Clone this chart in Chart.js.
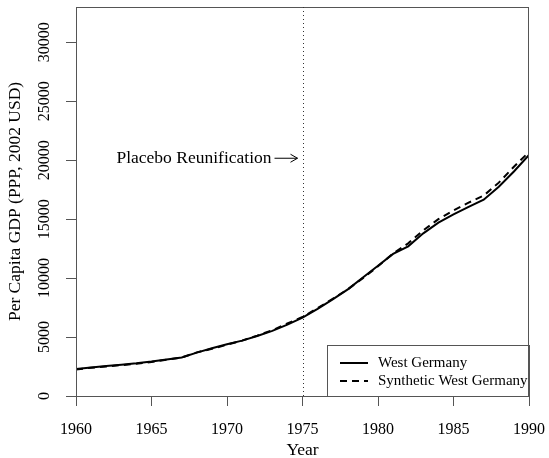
<!DOCTYPE html>
<html>
<head>
<meta charset="utf-8">
<script src="https://cdn.jsdelivr.net/npm/chart.js@4.4.1/dist/chart.umd.min.js"></script>
<style>
  html, body { margin: 0; padding: 0; background: #fff; }
  canvas { display: block; }
</style>
</head>
<body>
<canvas id="gdpChart" width="549" height="458"></canvas>
<script>
// Data
const years = [1960, 1961, 1962, 1963, 1964, 1965, 1966, 1967, 1968, 1969,
               1970, 1971, 1972, 1973, 1974, 1975, 1976, 1977, 1978, 1979,
               1980, 1981, 1982, 1983, 1984, 1985, 1986, 1987, 1988, 1989, 1990];
const westGermany = [2300, 2420, 2550, 2650, 2770, 2920, 3100, 3270, 3680, 4050,
                     4390, 4700, 5090, 5520, 6050, 6650, 7400, 8200, 9050, 10050,
                     11050, 12050, 12700, 13800, 14700, 15400, 16050, 16650, 17750, 19050, 20450];
const syntheticWestGermany = [2250, 2400, 2500, 2620, 2730, 2880, 3080, 3270, 3700, 4000,
                              4350, 4700, 5120, 5580, 6150, 6700, 7450, 8250, 9050, 10000,
                              11000, 12100, 12950, 14050, 15000, 15750, 16400, 17000, 18100, 19450, 20700];
const xTicks = [1960, 1965, 1970, 1975, 1980, 1985, 1990];
const yTicks = [0, 5000, 10000, 15000, 20000, 25000, 30000];
const seriesLabels = ['West Germany', 'Synthetic West Germany'];
const placeboYear = 1975;
const placeboLabel = 'Placebo Reunification';

const serif = "'Liberation Serif', 'DejaVu Serif', serif";
const axisColor = '#555';

const toPoints = (vals) => years.map((yr, i) => ({ x: yr, y: vals[i] }));

// box round the plot area, dotted placebo line, arrow note, rotated y labels, legend
const decorations = {
    id: 'decorations',
    afterDraw(chart) {
        const { ctx, chartArea: a, scales: { x, y } } = chart;
        ctx.save();

        // frame
        ctx.strokeStyle = axisColor;
        ctx.lineWidth = 1;
        ctx.strokeRect(a.left + 0.5, a.top + 0.5, a.right - a.left - 1, a.bottom - a.top);

        // dotted vertical line
        const px = Math.round(x.getPixelForValue(placeboYear)) + 0.5;
        ctx.strokeStyle = '#333';
        ctx.setLineDash([1, 3]);
        ctx.beginPath();
        ctx.moveTo(px, a.top);
        ctx.lineTo(px, a.bottom);
        ctx.stroke();
        ctx.setLineDash([]);

        // annotation with arrow
        const ay = y.getPixelForValue(20000) - 2;
        const tipX = px - 6;
        const tailX = tipX - 23;
        ctx.strokeStyle = '#000';
        ctx.lineWidth = 1;
        ctx.beginPath();
        ctx.moveTo(tailX, ay);
        ctx.lineTo(tipX, ay);
        ctx.moveTo(tipX - 7, ay - 4);
        ctx.lineTo(tipX, ay);
        ctx.lineTo(tipX - 7, ay + 4);
        ctx.stroke();
        ctx.fillStyle = '#000';
        ctx.font = '17.5px ' + serif;
        ctx.textAlign = 'right';
        ctx.textBaseline = 'middle';
        ctx.fillText(placeboLabel, tailX - 3, ay);

        // rotated y tick labels
        ctx.font = '16px ' + serif;
        ctx.textAlign = 'center';
        ctx.textBaseline = 'middle';
        y.ticks.forEach(t => {
            const ty = y.getPixelForValue(t.value);
            ctx.save();
            ctx.translate(45, ty);
            ctx.rotate(-Math.PI / 2);
            ctx.fillText(String(t.value), 0, 0);
            ctx.restore();
        });

        // legend box in the lower right corner
        const lw = 202, lh = 51;
        const lx = a.right - lw, ly = a.bottom - lh;
        ctx.strokeStyle = axisColor;
        ctx.lineWidth = 1;
        ctx.strokeRect(lx + 0.5, ly + 0.5, lw, lh);
        ctx.font = '15px ' + serif;
        ctx.textAlign = 'left';
        chart.data.datasets.forEach((ds, i) => {
            const rowY = ly + 18 + i * 18;
            ctx.strokeStyle = ds.borderColor;
            ctx.lineWidth = ds.borderWidth;
            ctx.setLineDash(ds.borderDash || []);
            ctx.beginPath();
            ctx.moveTo(lx + 13, rowY);
            ctx.lineTo(lx + 41, rowY);
            ctx.stroke();
            ctx.setLineDash([]);
            ctx.fillStyle = '#000';
            ctx.fillText(ds.label, lx + 51, rowY);
        });
        ctx.restore();
    }
};

new Chart(document.getElementById('gdpChart').getContext('2d'), {
    type: 'line',
    data: {
        datasets: [
            {
                label: seriesLabels[0],
                data: toPoints(westGermany),
                borderColor: '#000',
                borderWidth: 2,
                pointRadius: 0,
                tension: 0
            },
            {
                label: seriesLabels[1],
                data: toPoints(syntheticWestGermany),
                borderColor: '#000',
                borderWidth: 2,
                borderDash: [7, 5],
                pointRadius: 0,
                tension: 0
            }
        ]
    },
    options: {
        responsive: false,
        animation: false,
        layout: { padding: { left: 0, right: 20, top: 7, bottom: 0 } },
        plugins: {
            legend: { display: false },
            tooltip: { enabled: false }
        },
        scales: {
            x: {
                type: 'linear',
                min: 1960,
                max: 1990,
                afterBuildTicks: s => { s.ticks = xTicks.map(v => ({ value: v })); },
                afterFit: s => { s.height = 62; s.paddingLeft = 0; s.paddingRight = 0; },
                grid: { drawOnChartArea: false, tickLength: 10, color: axisColor },
                border: { color: axisColor },
                ticks: {
                    color: '#000',
                    font: { family: serif, size: 16 },
                    padding: 14,
                    maxRotation: 0,
                    callback: v => String(v)
                },
                title: {
                    display: true,
                    text: 'Year',
                    color: '#000',
                    font: { family: serif, size: 17.5 },
                    padding: { top: 0, bottom: -3 }
                }
            },
            y: {
                type: 'linear',
                min: 0,
                max: 33000,
                afterBuildTicks: s => { s.ticks = yTicks.map(v => ({ value: v })); },
                afterFit: s => { s.width = 76; s.paddingTop = 0; s.paddingBottom = 0; },
                grid: { drawOnChartArea: false, tickLength: 10, color: axisColor },
                border: { color: axisColor },
                ticks: { display: false },
                title: {
                    display: true,
                    text: 'Per Capita GDP (PPP, 2002 USD)',
                    color: '#000',
                    font: { family: serif, size: 17.5 },
                    padding: { top: 5, bottom: 0 }
                }
            }
        }
    },
    plugins: [decorations]
});
</script>
</body>
</html>
